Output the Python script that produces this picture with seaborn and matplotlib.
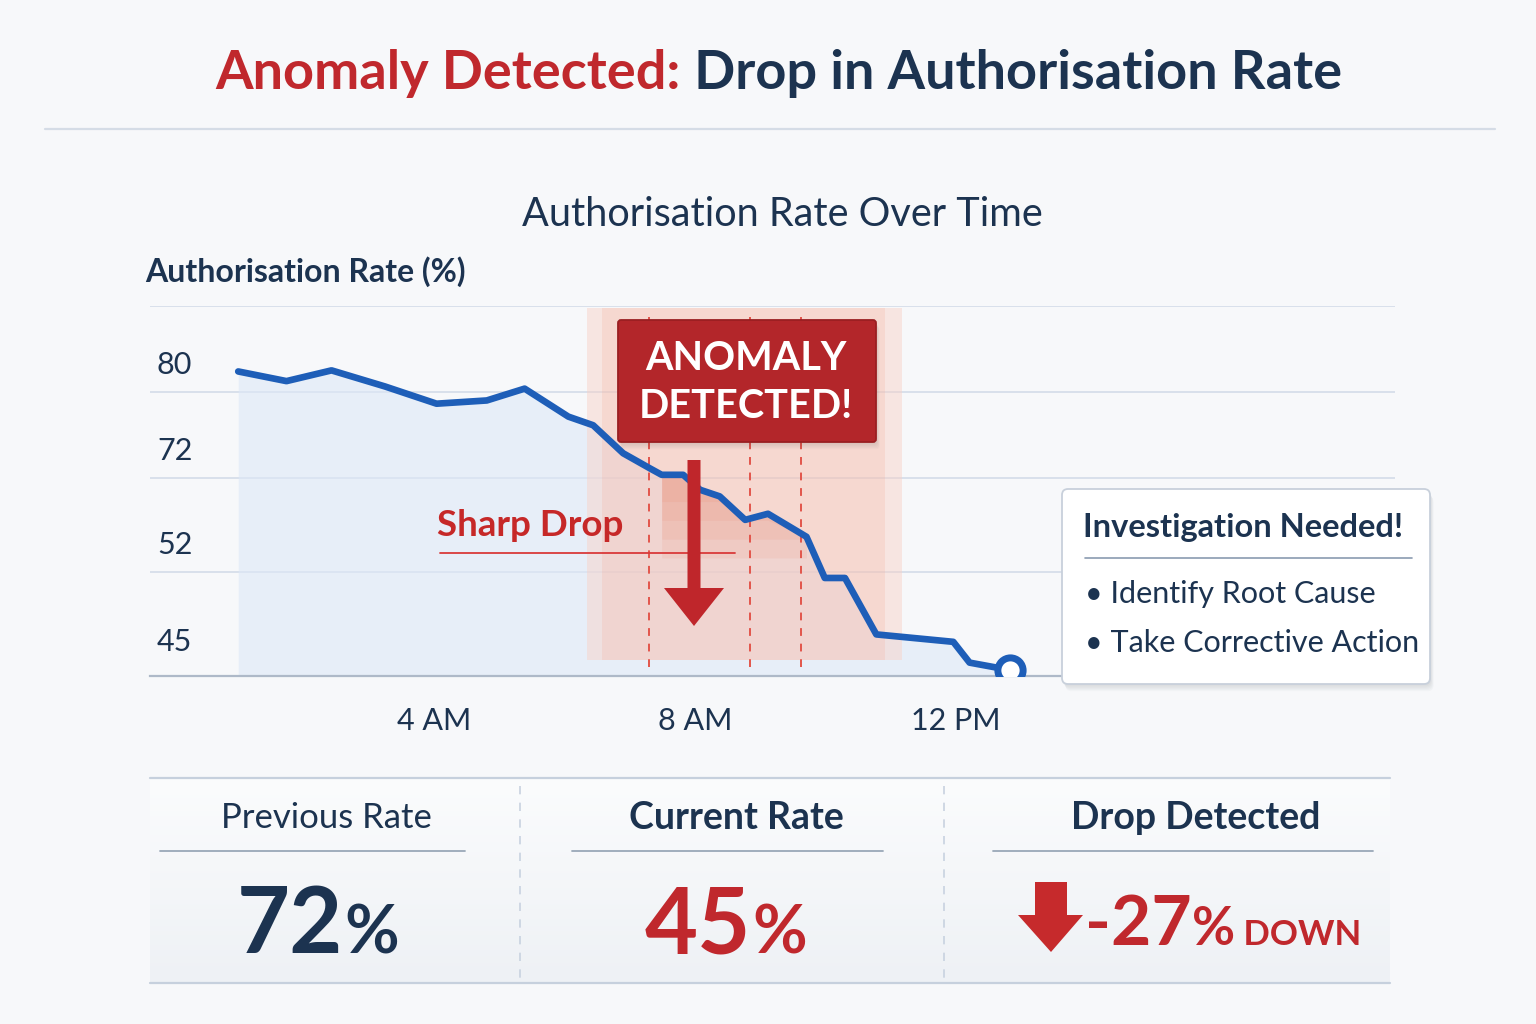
import numpy as np
import pandas as pd
import matplotlib
matplotlib.use('Agg')
import matplotlib.pyplot as plt
import seaborn as sns
from matplotlib.patches import FancyBboxPatch, FancyArrow, Polygon

# Data
hours = [1.0, 1.74, 2.43, 3.25, 4.04, 4.81, 5.39, 6.06, 6.44, 6.90, 7.31, 7.49,
         7.82, 8.08, 8.38, 8.77, 9.12, 9.71, 9.99, 10.30, 10.78, 11.96, 12.21, 12.83]
rate = [81.9, 81.0, 82.0, 80.5, 78.9, 79.2, 80.3, 77.7, 76.9, 74.3, 72.9, 72.3,
        72.3, 69.5, 68.1, 63.1, 64.4, 59.5, 51.6, 51.6, 47.8, 47.3, 45.9, 45.4]

y_ticks = [45, 52, 72, 80]
y_tick_labels = ['45', '52', '72', '80']
x_ticks = [4, 8, 12]
x_tick_labels = ['4 AM', '8 AM', '12 PM']

# the y axis of the reference is not linear: value knots and their axis fraction
axis_vals = [45, 52, 72, 80, 88]
axis_pos = [0.0, 0.281, 0.535, 0.768, 1.0]

anomaly_window = (6.34, 11.17)
anomaly_core = (6.57, 10.91)
anomaly_marks = [7.30, 8.85, 9.63]
wedge_start, wedge_end = 11, 17

previous_rate = 72
current_rate = 45
drop = previous_rate - current_rate

stat_headers = ['Previous Rate', 'Current Rate', 'Drop Detected']
actions = ['Identify Root Cause', 'Take Corrective Action']

# Colours
NAVY = '#1c3350'
RED = '#c0282d'
BLUE = '#1e5eb8'
GRID = '#d6deea'

sns.set_theme(style='white')
plt.rcParams['font.family'] = ['Lato', 'DejaVu Sans']

W, H = 1536, 1024
fig = plt.figure(figsize=(W / 100, H / 100), dpi=100, facecolor='#f7f8fa')

# Main chart axes
ax = fig.add_axes([150 / W, 1 - 676 / H, (1395 - 150) / W, (676 - 306) / H])
ax.set_facecolor('none')
ax.set_yscale('function', functions=(lambda v: np.interp(v, axis_vals, axis_pos),
                                     lambda p: np.interp(p, axis_pos, axis_vals)))
ax.set_xlim(-0.352, 18.73)
ax.set_ylim(45, 88)

df = pd.DataFrame({'hour': hours, 'rate': rate})

for v in axis_vals[1:]:
    ax.axhline(v, color=GRID, lw=1.3, zorder=0)

ax.fill_between(df['hour'], df['rate'], 45, color='#dde8f7', alpha=0.6, lw=0, zorder=1)

# anomaly window
ax.axvspan(*anomaly_window, ymin=0.043, ymax=0.995, color='#f9cfc4', alpha=0.45, lw=0, zorder=2)
ax.axvspan(*anomaly_core, ymin=0.043, ymax=0.995, color='#f4ab98', alpha=0.22, lw=0, zorder=2)
seg = df.iloc[wedge_start:wedge_end + 1]
for lvl in [67, 63, 59, 55]:
    ax.fill_between(seg['hour'], seg['rate'], np.minimum(seg['rate'], lvl),
                    color='#ec7a5e', alpha=0.11, lw=0, zorder=3)
for h in anomaly_marks:
    ax.axvline(h, ymin=0.025, ymax=0.97, color='#e2554b', ls=(0, (4, 4)), lw=1.4, zorder=3)

sns.lineplot(data=df, x='hour', y='rate', ax=ax, color=BLUE, lw=4.8, zorder=5)
ax.scatter(df['hour'].iloc[-1], df['rate'].iloc[-1], s=330, facecolor='white',
           edgecolor=BLUE, linewidth=5, zorder=6)

for side in ['top', 'right', 'left']:
    ax.spines[side].set_visible(False)
ax.spines['bottom'].set_color('#aeb9c8')
ax.spines['bottom'].set_linewidth(1.6)

ax.set_yticks([])
ax.set_xticks(x_ticks)
ax.set_xticklabels(x_tick_labels)
ax.tick_params(axis='x', direction='inout', length=14, width=1.3, color='#8a98a8',
               pad=15, labelsize=22, labelcolor=NAVY)
ax.set_xlabel('')
ax.set_ylabel('')

for v, lbl in zip(y_ticks, y_tick_labels):
    off = 20 if v == 45 else 13
    ax.annotate(lbl, xy=(0, v), xycoords=('axes fraction', 'data'), xytext=(7, off),
                textcoords='offset pixels', ha='left', va='bottom', fontsize=22, color=NAVY)

# Overlay in pixel units for titles, panels and call-outs
ov = fig.add_axes([0, 0, 1, 1], zorder=10)
ov.patch.set_visible(False)
ov.axis('off')

# bottom stats panel background gradient
grad = np.linspace(0, 1, 100).reshape(-1, 1)
ov.imshow(grad, extent=(150, 1390, 983, 778), cmap=matplotlib.colors.LinearSegmentedColormap.from_list(
    'g', ['#fbfcfd', '#eef1f5']), aspect='auto', zorder=0)
ov.set_xlim(0, W)
ov.set_ylim(H, 0)

renderer = fig.canvas.get_renderer()


def width_of(t):
    return t.get_window_extent(renderer).width


def chain(parts, x, y, center=False, gap=0):
    # parts: list of (text, kwargs); placed one after the other on one baseline
    items = [ov.text(x, y, s, ha='left', va='baseline', **kw) for s, kw in parts]
    widths = [width_of(t) for t in items]
    total = sum(widths) + gap * (len(items) - 1)
    start = x - total / 2 if center else x
    for t, w in zip(items, widths):
        t.set_x(start)
        start += w + gap
    return items


# Title
chain([('Anomaly Detected:', dict(fontsize=39, weight='bold', color=RED)),
       (' Drop in Authorisation Rate', dict(fontsize=39, weight='bold', color=NAVY))],
      779, 89, center=True)
ov.plot([45, 1495], [129, 129], color='#d5dce6', lw=1.6, zorder=1)

ov.text(782, 214, 'Authorisation Rate Over Time', ha='center', va='center',
        fontsize=28.5, color=NAVY)
ov.text(145, 272, 'Authorisation Rate (%)', ha='left', va='center', fontsize=23,
        weight='bold', color=NAVY)


def shadow_box(x, y, w, h, fc, ec, r):
    for i in range(1, 7):
        ov.add_patch(FancyBboxPatch((x + i * 0.6, y + i * 1.2), w, h,
                                    boxstyle=f'round,pad=0,rounding_size={r}',
                                    fc='#1c2a3a', ec='none', alpha=0.025, zorder=2))
    ov.add_patch(FancyBboxPatch((x, y), w, h, boxstyle=f'round,pad=0,rounding_size={r}',
                                fc=fc, ec=ec, lw=1.3, zorder=3))


# Anomaly call-out
shadow_box(618, 320, 258, 122, '#b3262a', '#9a1f22', 3)
ov.text(746, 358, 'ANOMALY', ha='center', va='center', fontsize=28.5, weight='bold',
        color='white', zorder=4)
ov.text(746, 406, 'DETECTED!', ha='center', va='center', fontsize=28.5, weight='bold',
        color='white', zorder=4)

ov.text(437, 525, 'Sharp Drop', ha='left', va='center', fontsize=26.5, weight='bold',
        color='#c62828', zorder=4)
ov.plot([440, 735], [553, 553], color='#d93a3a', lw=1.3, zorder=4)
ov.add_patch(FancyArrow(694, 460, 0, 166, width=13, head_width=60, head_length=38,
                        length_includes_head=True, fc='#bf262b', ec='none', zorder=4))

# Investigation box
shadow_box(1062, 489, 368, 195, 'white', '#c8d0db', 6)
ov.text(1083, 528, 'Investigation Needed!', ha='left', va='center', fontsize=23.5,
        weight='bold', color=NAVY, zorder=4)
ov.plot([1085, 1412], [558, 558], color='#8a9bb0', lw=1.2, zorder=4)
for i, a in enumerate(actions):
    ov.text(1085, 594 + i * 49, '\u2022 ' + a, ha='left', va='center', fontsize=22,
            color=NAVY, zorder=4)

# Stats panel
ov.plot([150, 1390], [778, 778], color='#c6d0dd', lw=1.6, zorder=1)
ov.plot([150, 1390], [983, 983], color='#c6d0dd', lw=1.6, zorder=1)
for x in [520, 944]:
    ov.plot([x, x], [786, 980], color='#c8d2e0', lw=1.2, ls=(0, (5, 5)), zorder=1)

header_x = [326, 736, 1196]
header_w = ['normal', 'bold', 'bold']
header_s = [25, 27, 27]
under = [(160, 465), (572, 883), (993, 1373)]
for hx, s, wt, fs, (u0, u1) in zip(header_x, stat_headers, header_w, header_s, under):
    ov.text(hx, 818, s, ha='center', va='center', fontsize=fs, weight=wt, color=NAVY)
    ov.plot([u0, u1], [851, 851], color='#9aa8b8', lw=1.3)

chain([(str(previous_rate), dict(fontsize=66, weight='bold', color=NAVY)),
       ('%', dict(fontsize=48, weight='bold', color=NAVY))], 318, 953, center=True, gap=2)
chain([(str(current_rate), dict(fontsize=66, weight='bold', color=RED)),
       ('%', dict(fontsize=48, weight='bold', color=RED))], 726, 953, center=True, gap=2)

ov.add_patch(Polygon([(1035, 882), (1067, 882), (1067, 915), (1083, 915), (1051, 952),
                      (1018, 915), (1035, 915)], closed=True, fc='#c62a2c', ec='none'))
chain([(f'-{drop}', dict(fontsize=50, weight='bold', color=RED)),
       ('%', dict(fontsize=38, weight='bold', color=RED)),
       (' DOWN', dict(fontsize=25, weight='bold', color=RED))], 1085, 945)

fig.savefig('out.png', dpi=100, facecolor=fig.get_facecolor())
